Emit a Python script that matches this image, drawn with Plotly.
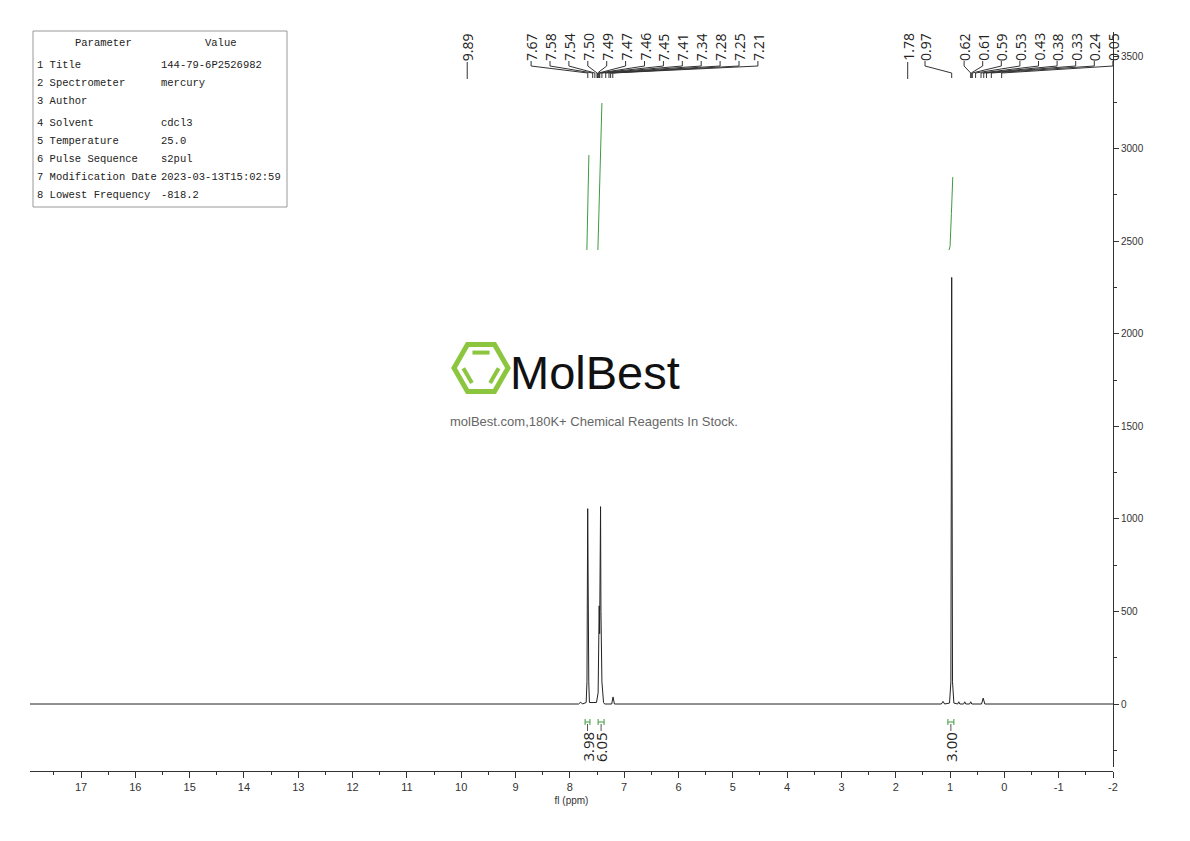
import plotly.graph_objects as go

# ---------------- data ----------------
# 1H NMR trace (ppm, intensity) - baseline and peak apexes
spec_ppm = [17.94, 7.84, 7.80, 7.77, 7.70, 7.685, 7.672, 7.668, 7.664, 7.652, 7.64,
            7.51, 7.48, 7.465, 7.46, 7.452, 7.435, 7.428, 7.424, 7.41, 7.38, 7.36,
            7.23, 7.205, 7.18, 1.16, 1.13, 1.10, 1.01, 0.985, 0.97, 0.955, 0.93,
            0.86, 0.84, 0.82, 0.75, 0.73, 0.71, 0.64, 0.62, 0.60, 0.42, 0.39, 0.36, -2.0]
spec_int = [0, 0, 10, 0, 8, 120, 1055, 760, 963, 120, 8,
            8, 60, 300, 530, 380, 1066, 500, 411, 120, 8, 0,
            0, 38, 0, 0, 14, 0, 5, 120, 2304, 120, 5,
            0, 12, 0, 0, 12, 0, 0, 12, 0, 0, 32, 0, 0]

# integral curves
integ_ppm = [[7.687, 7.668, 7.650],
             [7.484, 7.445, 7.410],
             [1.02, 1.00, 0.975, 0.96, 0.95]]
integ_val = [[2452, 2700, 2965],
             [2452, 2870, 3246],
             [2452, 2470, 2650, 2830, 2846]]

# integration regions and values
int_from = [7.72, 7.48, 1.04]
int_to = [7.63, 7.37, 0.93]
int_labels = ["3.98", "6.05", "3.00"]

# peak labels
single_peaks = [9.89, 1.78]
group_left = [7.67, 7.58, 7.54, 7.50, 7.49, 7.47, 7.46, 7.45, 7.41, 7.34, 7.28, 7.25, 7.21]
lone_097 = [0.97]
group_right = [0.62, 0.61, 0.59, 0.53, 0.43, 0.38, 0.33, 0.24, 0.05]

# axis tick labels
x_tickvals = [17, 16, 15, 14, 13, 12, 11, 10, 9, 8, 7, 6, 5, 4, 3, 2, 1, 0, -1, -2]
x_ticktext = ["17", "16", "15", "14", "13", "12", "11", "10", "9", "8", "7", "6", "5",
              "4", "3", "2", "1", "0", "-1", "-2"]
y_tickvals = [0, 500, 1000, 1500, 2000, 2500, 3000, 3500]
y_ticktext = ["0", "500", "1000", "1500", "2000", "2500", "3000", "3500"]

# parameter table
param_names = ["Title", "Spectrometer", "Author", "Solvent", "Temperature",
               "Pulse Sequence", "Modification Date", "Lowest Frequency"]
param_values = ["144-79-6P2526982", "mercury", "", "cdcl3", "25.0",
                "s2pul", "2023-03-13T15:02:59", "-818.2"]

# ---------------- layout geometry (screen pixels) ----------------
SCREEN_W, SCREEN_H = 1190, 841
OFF = 8  # page body margin
PL, PR, PT, PB = 30, 1113, 32, 771
X_LEFT, X_RIGHT = 17.94, -2.0
Y_ZERO_PX, PX_PER_UNIT = 704, 648 / 3500
Y_AXIS_BOTTOM_PX = 767


def pxx(px):
    return (px - PL) / (PR - PL)


def pxy(py):
    return (PB - py) / (PB - PT)


def ppm_from_px(px):
    return X_LEFT - (px - PL) / (PR - PL) * (X_LEFT - X_RIGHT)


y_lo = -(Y_AXIS_BOTTOM_PX - Y_ZERO_PX) / PX_PER_UNIT
y_hi = (Y_ZERO_PX - PT) / PX_PER_UNIT

TICKFONT = "Liberation Sans, Arial, sans-serif"
LABEL_FONT = dict(family="Open Sans, DejaVu Sans, sans-serif", size=14, color="#222")
INT_FONT = dict(family="Open Sans, DejaVu Sans, sans-serif", size=15, color="#222")
GREEN = "#3f9a3f"

fig = go.Figure()
fig.add_trace(go.Scatter(x=spec_ppm, y=spec_int, mode="lines",
                         line=dict(color="#222", width=1), hoverinfo="skip"))
for xs, ys in zip(integ_ppm, integ_val):
    fig.add_trace(go.Scatter(x=xs, y=ys, mode="lines",
                             line=dict(color=GREEN, width=1), hoverinfo="skip"))

shapes = []
annotations = []


def line(x0, y0, x1, y1, color="#333", width=1, xref="x", yref="paper"):
    shapes.append(dict(type="line", xref=xref, yref=yref, x0=x0, y0=y0, x1=x1, y1=y1,
                       line=dict(color=color, width=width)))


def vlabel(xppm, text, py, font=LABEL_FONT):
    annotations.append(dict(x=xppm, y=pxy(py), xref="x", yref="paper", text=text,
                            textangle=-90, showarrow=False, font=font,
                            xanchor="center", yanchor="middle"))


# single peak labels "—9.89"
for p in single_peaks:
    vlabel(p, f"{p:.2f}", 47)
    line(p, pxy(62), p, pxy(79))


# multiplet labels
def group(peaks, center_px, step_px, t_py=47, y_a=61, y_b=66, y_c=73, y_d=78):
    n = len(peaks)
    for i, p in enumerate(peaks):
        lx = ppm_from_px(center_px + (i - (n - 1) / 2) * step_px)
        vlabel(lx, f"{p:.2f}", t_py)
        line(lx, pxy(y_a), lx, pxy(y_b))
        line(lx, pxy(y_b), p, pxy(y_c))
        line(p, pxy(y_c), p, pxy(y_d))


group(group_left, 644.5, 18.9)
group(lone_097, 925, 0)
group(group_right, 1038.5, 18.6)

# integration marks below baseline
for a, b, lab in zip(int_from, int_to, int_labels):
    c = (a + b) / 2
    line(a, pxy(722), b, pxy(722), color=GREEN)
    line(a, pxy(719), a, pxy(725), color=GREEN)
    line(b, pxy(719), b, pxy(725), color=GREEN)
    line(c, pxy(724), c, pxy(731), color="#555")
    vlabel(c, lab, 747, INT_FONT)

# parameter table
shapes.append(dict(type="rect", xref="paper", yref="paper",
                   x0=pxx(33), x1=pxx(287), y0=pxy(207), y1=pxy(31),
                   line=dict(color="#999", width=1), fillcolor="white", layer="below"))
MONO = dict(family="Liberation Mono, DejaVu Sans Mono, monospace", size=10.5, color="#222")
annotations.append(dict(x=pxx(103), y=pxy(43), xref="paper", yref="paper", text="Parameter",
                        showarrow=False, font=MONO, xanchor="center", yanchor="middle"))
annotations.append(dict(x=pxx(221), y=pxy(43), xref="paper", yref="paper", text="Value",
                        showarrow=False, font=MONO, xanchor="center", yanchor="middle"))
row_py = [65, 83, 101, 123, 141, 159, 177, 195]
for i, (nm, val) in enumerate(zip(param_names, param_values)):
    annotations.append(dict(x=pxx(35), y=pxy(row_py[i]), xref="paper", yref="paper",
                            text=f"{i + 1} {nm}", showarrow=False, font=MONO,
                            xanchor="left", yanchor="middle"))
    if val:
        annotations.append(dict(x=pxx(159), y=pxy(row_py[i]), xref="paper", yref="paper",
                                text=val, showarrow=False, font=MONO,
                                xanchor="left", yanchor="middle"))

# watermark logo
cx, cy, r = 481, 368, 27
hv = [(cx + r, cy), (cx + r / 2, cy - r * 0.866), (cx - r / 2, cy - r * 0.866),
      (cx - r, cy), (cx - r / 2, cy + r * 0.866), (cx + r / 2, cy + r * 0.866)]
path = "M " + " L ".join(f"{pxx(x):.5f},{pxy(y):.5f}" for x, y in hv) + " Z"
LOGO_G = "#8cc63f"
shapes.append(dict(type="path", xref="paper", yref="paper", path=path,
                   line=dict(color=LOGO_G, width=5)))
ri = r * 0.66
hi = [(cx + (x - cx) * ri / r, cy + (y - cy) * ri / r) for x, y in hv]
for (a, b) in [(1, 2), (3, 4), (5, 0)]:
    x0, y0 = hi[a]
    x1, y1 = hi[b]
    sx0, sy0 = x0 + (x1 - x0) * 0.02, y0 + (y1 - y0) * 0.02
    sx1, sy1 = x0 + (x1 - x0) * 0.98, y0 + (y1 - y0) * 0.98
    shapes.append(dict(type="line", xref="paper", yref="paper",
                       x0=pxx(sx0), y0=pxy(sy0), x1=pxx(sx1), y1=pxy(sy1),
                       line=dict(color=LOGO_G, width=4)))
annotations.append(dict(x=pxx(508), y=pxy(372), xref="paper", yref="paper", text="MolBest",
                        showarrow=False, xanchor="left", yanchor="middle",
                        font=dict(family="Liberation Sans, Arial, sans-serif", size=47,
                                  color="#111")))
annotations.append(dict(x=pxx(594), y=pxy(421), xref="paper", yref="paper",
                        text="molBest.com,180K+ Chemical Reagents In Stock.",
                        showarrow=False, xanchor="center", yanchor="middle",
                        font=dict(family="Liberation Sans, Arial, sans-serif", size=13,
                                  color="#666")))

fig.update_layout(
    width=SCREEN_W - OFF, height=SCREEN_H - OFF, autosize=False,
    margin=dict(l=PL - OFF, r=SCREEN_W - PR, t=PT - OFF, b=SCREEN_H - PB, pad=0),
    paper_bgcolor="white", plot_bgcolor="white",
    showlegend=False,
    shapes=shapes, annotations=annotations,
    xaxis=dict(range=[X_LEFT, X_RIGHT], anchor="free", position=0,
               showgrid=False, zeroline=False, showline=True, linecolor="#333", linewidth=1,
               ticks="outside", ticklen=6, tickcolor="#333",
               tickvals=x_tickvals, ticktext=x_ticktext,
               minor=dict(ticks="outside", ticklen=3, tickcolor="#333", tick0=0, dtick=0.5),
               tickfont=dict(family=TICKFONT, size=11, color="#333"),
               title=dict(text="fl (ppm)", font=dict(family=TICKFONT, size=10, color="#333"),
                          standoff=4)),
    yaxis=dict(range=[y_lo, y_hi], domain=[(PB - Y_AXIS_BOTTOM_PX) / (PB - PT), 1],
               side="right", anchor="x",
               showgrid=False, zeroline=False, showline=True, linecolor="#333", linewidth=1,
               ticks="outside", ticklen=5, tickcolor="#333",
               tickvals=y_tickvals, ticktext=y_ticktext,
               minor=dict(ticks="outside", ticklen=3, tickcolor="#333", tick0=0, dtick=250),
               tickfont=dict(family=TICKFONT, size=10, color="#333")),
)

fig.write_html("out.html")
